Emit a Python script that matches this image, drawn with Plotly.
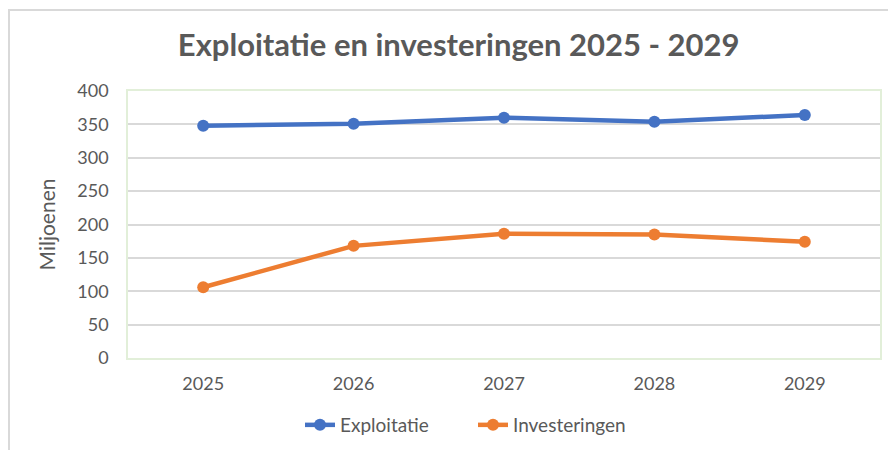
import plotly.graph_objects as go

years = ["2025", "2026", "2027", "2028", "2029"]
exploitatie = [348, 351, 360, 354, 364]
investeringen = [106, 168, 186, 185, 174]
y_ticks = [0, 50, 100, 150, 200, 250, 300, 350, 400]

font_family = "Lato, Carlito, Calibri, sans-serif"
gray = "#595959"

# page body has an 8px margin; figure coordinates are offset accordingly
L, R, T, B = 120, 24, 83, 100
PW = 896 - L - R
PH = 450 - T - B

fig = go.Figure()
fig.add_trace(go.Scatter(x=years, y=exploitatie, name="Exploitatie", mode="lines+markers",
                         line=dict(color="#4472C4", width=4.5), marker=dict(size=12, color="#4472C4")))
fig.add_trace(go.Scatter(x=years, y=investeringen, name="Investeringen", mode="lines+markers",
                         line=dict(color="#ED7D31", width=4.5), marker=dict(size=12, color="#ED7D31")))

fig.update_layout(
    width=896, height=450,
    margin=dict(l=L, r=R, t=T, b=B, autoexpand=False),
    paper_bgcolor="white", plot_bgcolor="white",
    font=dict(family=font_family, color=gray, size=18),
    title=dict(text="<b>Exploitatie en investeringen 2025 - 2029</b>", x=0.503, xanchor="center",
               y=1 - 37 / 450, yanchor="middle", font=dict(size=31, color=gray, family=font_family)),
    showlegend=True,
    legend=dict(orientation="h", x=(465 - L) / PW, xanchor="center", y=(PH + T - 417) / PH,
                yanchor="middle", font=dict(size=19, color=gray), traceorder="normal",
                entrywidth=128, entrywidthmode="pixels"),
    xaxis=dict(type="category", range=[-0.5, 4.5], showgrid=False, showline=True,
               linecolor="#E2EFD9", linewidth=1.5, mirror=True, ticks="", tickfont=dict(size=18),
               ticklabelstandoff=9, fixedrange=True),
    yaxis=dict(range=[0, 400], tickvals=y_ticks, showgrid=True, gridcolor="#D9D9D9", gridwidth=1.5,
               showline=True, linecolor="#E2EFD9", linewidth=1.5, mirror=True, zeroline=False,
               ticks="", ticklabelstandoff=14, tickfont=dict(size=18),
               title=dict(text="Miljoenen", standoff=16, font=dict(size=21, color=gray))),
    shapes=[dict(type="rect", xref="paper", yref="paper", x0=(1 - L) / PW, x1=(905 - L) / PW,
                 y0=(PH + T - 460) / PH, y1=(PH + T - 2) / PH, line=dict(color="#D9D9D9", width=2),
                 fillcolor="rgba(0,0,0,0)", layer="below")],
)

fig.write_html("out.html")
